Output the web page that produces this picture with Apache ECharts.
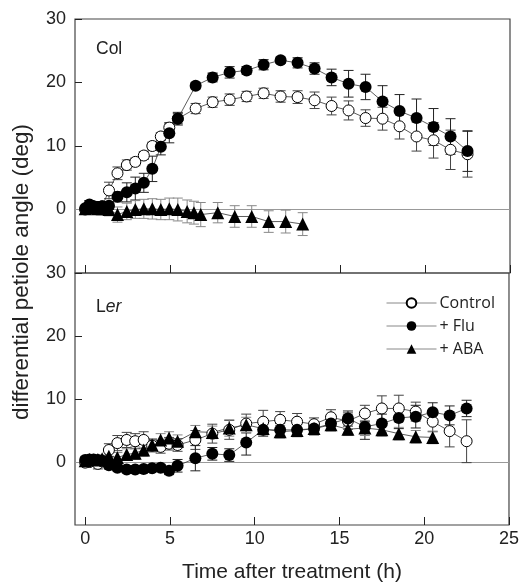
<!DOCTYPE html>
<html>
<head>
<meta charset="utf-8">
<script src="https://cdn.jsdelivr.net/npm/echarts@6/dist/echarts.min.js"></script>
<style>html,body{margin:0;padding:0;background:#fff;}#c{width:522px;height:584px;}</style>
</head>
<body>
<div id="c"></div>
<script>
// ---- data ----
const timeMain = [0, 0.25, 0.5, 0.75, 1.0, 1.4, 1.9, 2.45, 2.95, 3.45, 3.95, 4.45, 4.95, 5.45, 6.5, 7.5, 8.5, 9.5, 10.5, 11.5, 12.5, 13.5, 14.5, 15.5, 16.5, 17.5, 18.5, 19.5, 20.5, 21.5, 22.5];
const timeAbaCol = [0, 0.25, 0.5, 0.75, 1.0, 1.4, 1.9, 2.45, 2.95, 3.45, 3.95, 4.45, 4.95, 5.45, 6.0, 6.4, 6.8, 7.8, 8.8, 9.8, 10.8, 11.8, 12.8];
const timeAbaLer = [0, 0.25, 0.5, 0.75, 1.0, 1.4, 1.9, 2.45, 2.95, 3.45, 3.95, 4.45, 4.95, 5.45, 6.5, 7.5, 8.5, 9.5, 10.5, 11.5, 12.5, 13.5, 14.5, 15.5, 16.5, 17.5, 18.5, 19.5, 20.5];

// Col panel
const colControl = [0, 0.3, 0.2, 0.4, 0.5, 3.0, 5.7, 7.0, 7.5, 8.5, 10.0, 11.5, 12.9, 14.3, 15.9, 16.9, 17.3, 17.8, 18.3, 17.8, 17.7, 17.2, 16.3, 15.6, 14.4, 14.3, 13.1, 11.5, 10.9, 9.4, 8.7];
const colControlErr = [0.5, 0.6, 0.6, 0.6, 0.7, 1.3, 1.0, 0.8, 0.6, 0.6, 0.6, 0.6, 0.8, 0.8, 0.8, 0.8, 0.9, 0.8, 0.8, 0.9, 1.0, 1.3, 1.4, 1.5, 1.3, 1.8, 2.0, 2.3, 2.8, 3.1, 3.6];
const colFlu = [0.2, 0.8, 0.5, 0.4, 0.5, 0.6, 2.0, 2.7, 3.3, 4.2, 6.4, 9.9, 12.0, 14.3, 19.5, 20.8, 21.6, 21.9, 22.8, 23.5, 23.1, 22.2, 20.8, 19.8, 19.3, 17.0, 15.5, 14.4, 13.0, 11.5, 9.2];
const colFluErr = [0.3, 0.6, 0.5, 0.5, 0.5, 0.6, 0.8, 1.5, 1.8, 1.5, 2.0, 1.3, 1.5, 1.0, 0.5, 0.7, 0.9, 0.6, 0.8, 0.5, 0.8, 0.9, 1.3, 2.1, 2.0, 2.5, 2.6, 3.0, 2.9, 2.8, 3.2];
const colAba = [0.1, 0.3, 0.2, 0.1, 0.1, 0.0, -0.8, -0.3, 0.0, 0.1, 0.1, 0.0, 0.1, 0.0, -0.3, -0.5, -0.8, -0.5, -1.1, -1.1, -1.9, -1.9, -2.3];
const colAbaErr = [0.5, 0.6, 0.7, 0.8, 0.9, 1.0, 1.2, 1.3, 1.4, 1.5, 1.6, 1.6, 1.7, 1.8, 1.8, 1.8, 1.9, 1.6, 1.7, 1.7, 1.7, 1.8, 1.8];

// Ler panel
const lerControl = [-0.1, 0.0, 0.2, -0.3, 0.1, 1.9, 3.0, 3.5, 3.3, 3.5, 2.6, 2.4, 2.9, 2.7, 3.5, 4.5, 5.1, 6.1, 6.4, 6.7, 6.4, 6.0, 7.1, 6.5, 7.7, 8.5, 8.5, 8.0, 6.4, 4.9, 3.3];
const lerControlErr = [0.6, 0.6, 0.6, 0.8, 0.7, 1.0, 1.2, 1.2, 1.2, 1.3, 1.0, 1.0, 1.0, 1.0, 1.5, 1.5, 1.5, 1.5, 1.8, 1.3, 1.3, 1.0, 1.2, 1.3, 1.3, 2.0, 2.1, 1.5, 1.6, 2.5, 3.4];
const lerFlu = [0.3, 0.4, 0.4, 0.3, 0.2, -0.5, -0.9, -1.2, -1.2, -1.1, -1.0, -0.9, -1.4, -0.6, 0.6, 1.3, 1.1, 3.1, 5.1, 5.1, 5.1, 5.3, 6.1, 6.9, 5.6, 6.1, 7.0, 7.2, 7.9, 7.4, 8.5];
const lerFluErr = [0.5, 0.5, 0.5, 0.5, 0.5, 0.6, 0.5, 0.5, 0.5, 0.5, 0.5, 0.5, 0.6, 1.0, 2.0, 1.0, 1.0, 2.0, 1.0, 1.0, 1.0, 1.0, 1.0, 1.2, 2.0, 1.5, 1.7, 1.8, 1.5, 1.5, 1.3];
const lerAba = [0.2, 0.4, 0.3, 0.4, 0.5, 0.9, 0.7, 1.2, 1.4, 1.9, 2.7, 3.5, 3.8, 3.3, 4.8, 4.7, 5.4, 5.9, 5.3, 4.8, 5.0, 5.3, 5.9, 5.2, 5.4, 5.1, 4.5, 4.0, 3.9];
const lerAbaErr = [0.5, 0.5, 0.5, 0.6, 0.6, 0.8, 0.8, 0.9, 1.0, 1.0, 1.0, 1.0, 1.0, 1.0, 1.0, 1.0, 1.3, 1.2, 1.0, 1.0, 1.0, 0.9, 1.0, 1.0, 1.2, 1.0, 1.0, 1.0, 1.0];

const xTicks = [0, 5, 10, 15, 20, 25];
const yTicks = [0, 10, 20, 30];
const seriesNames = ['Control', '+ Flu', '+ ABA'];
const panelLabels = ['Col', 'Ler'];

// ---- build ----
const FONT = '"Liberation Sans", Arial, sans-serif';
const pts = (t, v) => t.map((x, i) => [x, v[i]]);
const errs = (t, v, e) => t.map((x, i) => [x, v[i] - e[i], v[i] + e[i]]);

const styles = {
  'Control': {symbol: 'circle', symbolSize: 11, itemStyle: {color: '#fff', borderColor: '#000', borderWidth: 1}, err: '#444'},
  '+ Flu': {symbol: 'circle', symbolSize: 12, itemStyle: {color: '#000', borderColor: '#000', borderWidth: 0}, err: '#222'},
  '+ ABA': {symbol: 'triangle', symbolSize: 13, itemStyle: {color: '#000', borderColor: '#000', borderWidth: 0}, err: '#888'}
};

function lineSeries(name, g, data, withZero) {
  const s = styles[name];
  const o = {
    name, type: 'line', xAxisIndex: g, yAxisIndex: g, data,
    symbol: s.symbol, symbolSize: s.symbolSize, showSymbol: true,
    itemStyle: s.itemStyle, lineStyle: {color: '#333', width: 0.8},
    z: 3, animation: false, silent: true
  };
  if (withZero) {
    o.markLine = {silent: true, symbol: 'none', label: {show: false},
      lineStyle: {color: '#999', width: 1, type: 'solid'}, data: [{yAxis: 0}], z: 1};
  }
  return o;
}
function errSeries(name, g, data) {
  const col = styles[name].err;
  return {
    type: 'custom', xAxisIndex: g, yAxisIndex: g, data, z: 2, silent: true,
    encode: {x: 0, y: [1, 2]},
    renderItem: (params, api) => {
      const x = api.value(0);
      const a = api.coord([x, api.value(1)]);
      const b = api.coord([x, api.value(2)]);
      const w = 5;
      const st = {stroke: col, lineWidth: 1};
      return {type: 'group', children: [
        {type: 'line', shape: {x1: a[0], y1: a[1], x2: b[0], y2: b[1]}, style: st},
        {type: 'line', shape: {x1: a[0] - w, y1: a[1], x2: a[0] + w, y2: a[1]}, style: st},
        {type: 'line', shape: {x1: b[0] - w, y1: b[1], x2: b[0] + w, y2: b[1]}, style: st}
      ]};
    }
  };
}

function xAxisCfg(g, labels) {
  const o = {
    gridIndex: g, type: 'value', min: -0.6, max: 25, position: 'bottom',
    axisLine: {show: false, onZero: false}, splitLine: {show: false},
    axisTick: {show: true, inside: true, length: 8, customValues: xTicks, lineStyle: {color: '#222', width: 1}},
    axisLabel: {show: labels, customValues: xTicks, fontSize: 18, color: '#222', fontFamily: FONT, margin: 5}
  };
  if (labels) {
    o.name = 'Time after treatment (h)';
    o.nameLocation = 'middle';
    o.nameGap = 37;
    o.nameTextStyle = {fontSize: 21, color: '#222', fontFamily: FONT};
  }
  return o;
}
function yAxisCfg(g) {
  return {
    gridIndex: g, type: 'value', min: -10, max: 30, position: 'left',
    axisLine: {show: false, onZero: false}, splitLine: {show: false},
    axisTick: {show: true, inside: true, length: 7, customValues: yTicks, lineStyle: {color: '#222', width: 1}},
    axisLabel: {show: true, customValues: yTicks, fontSize: 18, color: '#222', fontFamily: FONT, margin: 9}
  };
}

const option = {
  animation: false,
  backgroundColor: '#fff',
  grid: [
    {left: 75, top: 19, width: 435, height: 254, show: true, borderColor: '#444', borderWidth: 1.2, backgroundColor: 'transparent'},
    {left: 75, top: 273, width: 435, height: 254, show: true, borderColor: '#444', borderWidth: 1.2, backgroundColor: 'transparent'}
  ],
  xAxis: [xAxisCfg(0, false), xAxisCfg(1, true)],
  yAxis: [yAxisCfg(0), yAxisCfg(1)],
  legend: {
    data: seriesNames, orient: 'vertical', left: 381, top: 290,
    itemWidth: 50, itemHeight: 12, itemGap: 7,
    lineStyle: {color: '#888', width: 1},
    textStyle: {fontSize: 16, color: '#222', fontFamily: '"Open Sans", "Liberation Sans", sans-serif', padding: [0, 0, 0, -2]},
    selectedMode: false
  },
  graphic: [
    {type: 'text', left: 96, top: 40, style: {text: panelLabels[0], fontSize: 17.5, fill: '#222', fontFamily: FONT}},
    {type: 'text', left: 96, top: 298, style: {text: '{n|L}{i|er}', fontSize: 17.5, fill: '#222', fontFamily: FONT,
      rich: {n: {fontSize: 17.5, fontFamily: FONT, fill: '#222'}, i: {fontSize: 17.5, fontStyle: 'italic', fontFamily: FONT, fill: '#222'}}}},
    {type: 'text', x: 22, y: 272, rotation: Math.PI / 2,
      style: {text: 'differential petiole angle (deg)', fontSize: 22.5, fill: '#222', fontFamily: FONT, align: 'center', verticalAlign: 'middle'}}
  ],
  series: [
    errSeries('Control', 0, errs(timeMain, colControl, colControlErr)),
    errSeries('+ Flu', 0, errs(timeMain, colFlu, colFluErr)),
    errSeries('+ ABA', 0, errs(timeAbaCol, colAba, colAbaErr)),
    lineSeries('Control', 0, pts(timeMain, colControl), true),
    lineSeries('+ Flu', 0, pts(timeMain, colFlu), false),
    lineSeries('+ ABA', 0, pts(timeAbaCol, colAba), false),
    errSeries('Control', 1, errs(timeMain, lerControl, lerControlErr)),
    errSeries('+ Flu', 1, errs(timeMain, lerFlu, lerFluErr)),
    errSeries('+ ABA', 1, errs(timeAbaLer, lerAba, lerAbaErr)),
    lineSeries('Control', 1, pts(timeMain, lerControl), true),
    lineSeries('+ Flu', 1, pts(timeMain, lerFlu), false),
    lineSeries('+ ABA', 1, pts(timeAbaLer, lerAba), false)
  ]
};

const chart = echarts.init(document.getElementById('c'), null, {renderer: 'canvas'});
chart.setOption(option);
</script>
</body>
</html>
